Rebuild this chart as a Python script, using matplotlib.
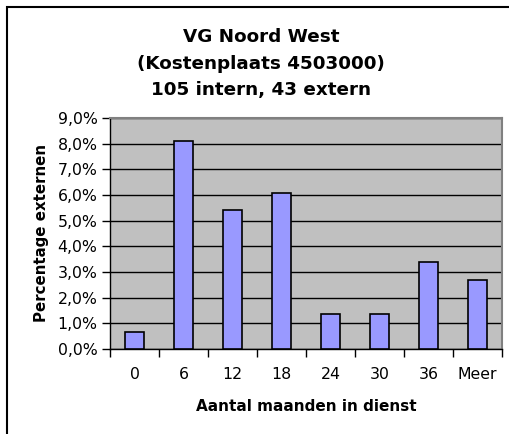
import matplotlib.pyplot as plt
import numpy as np
from matplotlib.patches import Rectangle

plt.rcParams['font.family'] = ['DejaVu Sans']

categories = ["0", "6", "12", "18", "24", "30", "36", "Meer"]
percentages = [0.68, 8.11, 5.41, 6.08, 1.35, 1.35, 3.38, 2.70]
yticks = np.arange(0, 10, 1)

fig = plt.figure(figsize=(5.09, 4.34), dpi=100)
ax = fig.add_axes([110/509, 1-349/434, 392/509, 231/434])

x = np.arange(len(categories))
ax.set_facecolor("#C0C0C0")
ax.set_axisbelow(True)
ax.yaxis.grid(True, color="black", lw=1)
ax.bar(x, percentages, width=0.39, color="#9999FF", edgecolor="black", lw=1.2, zorder=3)

ax.set_xlim(-0.5, len(categories) - 0.5)
ax.set_ylim(0, 9)
ax.set_yticks(yticks)
ax.set_yticklabels([("%.1f%%" % v).replace(".", ",") for v in yticks])
ax.set_xticks(x)
ax.set_xticklabels(categories)
ax.set_xticks(np.arange(-0.5, len(categories)), minor=True)
ax.tick_params(axis="x", which="major", length=0, pad=13, labelsize=11.3)
ax.tick_params(axis="x", which="minor", length=6, width=1, direction="out")
ax.tick_params(axis="y", length=6, width=1, direction="out", pad=3, labelsize=11.3)

for s in ["top", "right"]:
    ax.spines[s].set_color("#808080")
    ax.spines[s].set_linewidth(1.5)
for s in ["left", "bottom"]:
    ax.spines[s].set_color("black")
    ax.spines[s].set_linewidth(1)

ax.set_xlabel("Aantal maanden in dienst", fontsize=11, fontweight="bold", labelpad=12)
ax.set_ylabel("Percentage externen", fontsize=10.8, fontweight="bold", labelpad=6)

fig.text(261/509, 1-37/434, "VG Noord West", ha="center", va="center", fontsize=13.2, fontweight="bold")
fig.text(261/509, 1-64/434, "(Kostenplaats 4503000)", ha="center", va="center", fontsize=13.2, fontweight="bold")
fig.text(261/509, 1-90/434, "105 intern, 43 extern", ha="center", va="center", fontsize=13.2, fontweight="bold")

# outer chart frame (right and bottom edges fall outside the image)
fig.patches.append(Rectangle((7/509, -0.1), 1.2, 1.1 - 7/434, transform=fig.transFigure,
                             fill=False, edgecolor="black", lw=1.5))

fig.savefig("out.png", dpi=100)
